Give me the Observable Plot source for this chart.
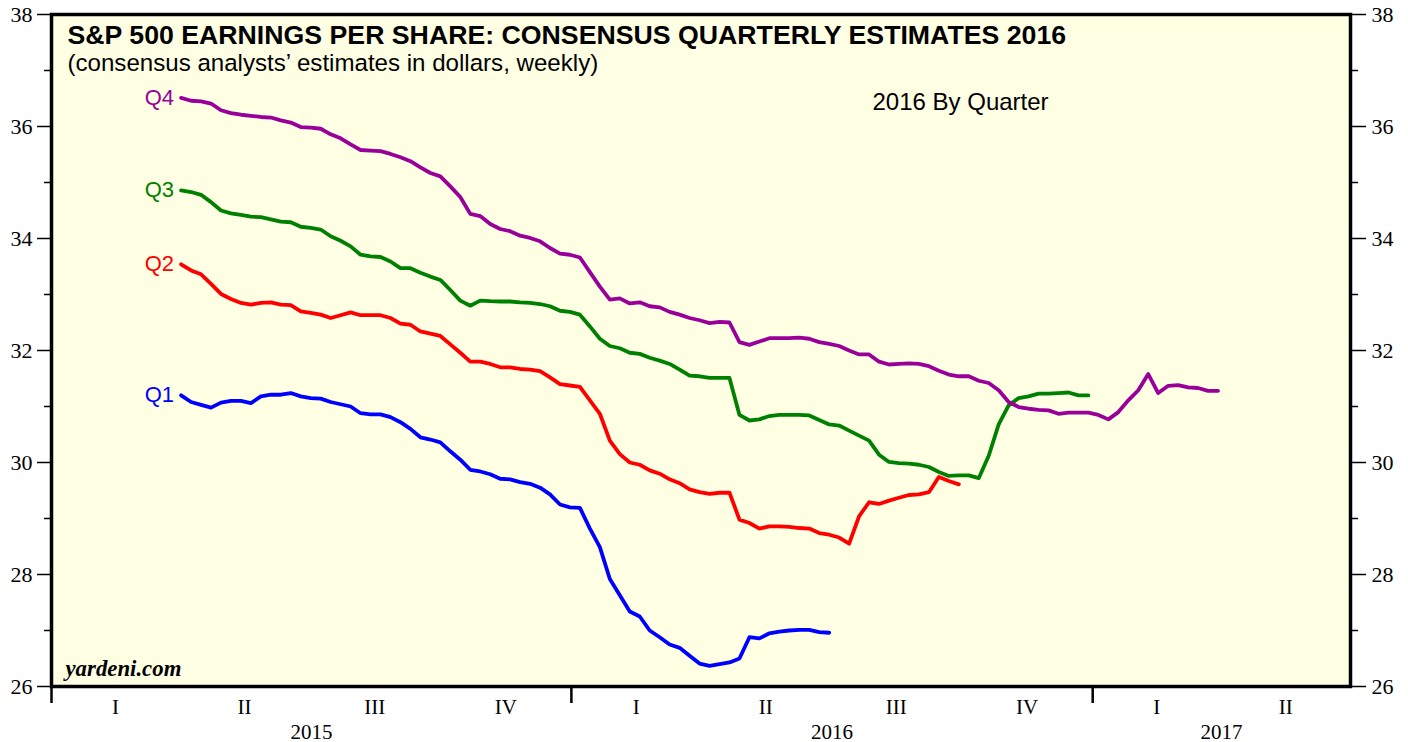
<!DOCTYPE html>
<html><head><meta charset="utf-8">
<script src="https://cdn.jsdelivr.net/npm/d3@7"></script>
<script src="https://cdn.jsdelivr.net/npm/@observablehq/plot@0.6"></script>
<style>
html,body{margin:0;padding:0;background:#fff;}
#chart{width:1408px;height:742px;overflow:hidden;position:relative;}
</style></head><body><div id="chart"></div>
<script>
// ---- data (weekly consensus estimates, starting first week of April 2015) ----
const startDate = [2015, 3, 2]; // 2015-04-02, weekly
const q1 = [31.20,31.08,31.03,30.98,31.07,31.10,31.10,31.06,31.18,31.21,
  31.21,31.24,31.18,31.15,31.14,31.08,31.04,31.00,30.88,30.86,
  30.86,30.81,30.72,30.60,30.45,30.41,30.36,30.20,30.05,29.87,
  29.84,29.79,29.71,29.70,29.65,29.62,29.55,29.43,29.25,29.20,
  29.19,28.82,28.49,27.92,27.63,27.34,27.25,27.00,26.88,26.75,
  26.69,26.55,26.41,26.37,26.40,26.43,26.50,26.88,26.86,26.95,
  26.98,27.00,27.01,27.01,26.97,26.96];
const q2 = [33.54,33.43,33.36,33.19,33.01,32.92,32.85,32.82,32.85,32.86,
  32.82,32.81,32.70,32.67,32.64,32.58,32.63,32.68,32.63,32.63,
  32.63,32.58,32.48,32.46,32.34,32.30,32.26,32.11,31.96,31.80,
  31.80,31.76,31.70,31.70,31.67,31.66,31.63,31.52,31.40,31.375,
  31.35,31.11,30.87,30.39,30.15,30.00,29.96,29.86,29.80,29.70,
  29.63,29.52,29.47,29.44,29.46,29.46,28.98,28.92,28.82,28.86,
  28.86,28.85,28.83,28.82,28.74,28.71,28.66,28.55,29.04,29.29,
  29.26,29.32,29.37,29.42,29.43,29.47,29.74,29.67,29.61];
const q3 = [34.86,34.83,34.78,34.65,34.50,34.45,34.42,34.39,34.38,34.34,
  34.30,34.29,34.21,34.19,34.16,34.04,33.96,33.86,33.71,33.68,
  33.67,33.59,33.47,33.47,33.39,33.32,33.26,33.08,32.89,32.80,
  32.89,32.88,32.875,32.875,32.86,32.85,32.83,32.79,32.71,32.69,
  32.64,32.43,32.21,32.08,32.04,31.96,31.94,31.87,31.82,31.76,
  31.66,31.55,31.54,31.51,31.51,31.51,30.85,30.75,30.77,30.83,
  30.85,30.85,30.85,30.84,30.76,30.68,30.66,30.57,30.48,30.39,
  30.14,30.01,29.99,29.98,29.96,29.92,29.83,29.76,29.77,29.77,
  29.72,30.12,30.68,31.02,31.15,31.18,31.23,31.23,31.24,31.25,
  31.20,31.20];
const q4 = [36.51,36.46,36.45,36.41,36.29,36.24,36.21,36.19,36.17,36.16,
  36.11,36.07,35.99,35.98,35.96,35.86,35.79,35.68,35.58,35.57,
  35.56,35.51,35.45,35.38,35.27,35.17,35.11,34.93,34.74,34.44,
  34.40,34.26,34.17,34.13,34.05,34.01,33.95,33.83,33.73,33.71,
  33.66,33.40,33.14,32.91,32.93,32.84,32.86,32.79,32.77,32.69,
  32.64,32.58,32.54,32.49,32.51,32.50,32.15,32.10,32.16,32.22,
  32.22,32.22,32.23,32.21,32.15,32.12,32.08,32.00,31.93,31.93,
  31.80,31.75,31.76,31.77,31.76,31.72,31.64,31.57,31.54,31.54,
  31.46,31.42,31.29,31.08,30.99,30.96,30.94,30.93,30.87,30.89,
  30.89,30.89,30.85,30.77,30.90,31.11,31.29,31.58,31.24,31.37,
  31.38,31.34,31.33,31.28,31.28];
const seriesNames = ["Q1","Q2","Q3","Q4"];
const seriesColors = ["#0000ff","#ff0000","#008000","#990099"];
const quarterLabels = ["I","II","III","IV","I","II","III","IV","I","II"];
const quarterBounds = ["2015-01-01","2015-04-01","2015-07-01","2015-10-01","2016-01-01","2016-04-01","2016-07-01","2016-10-01","2017-01-01","2017-04-01","2017-07-01"];
const yearLabels = ["2015","2016","2017"];
const yearBounds = ["2015-01-01","2016-01-01","2017-01-01","2017-07-01"];
const yMajor = [26,28,30,32,34,36,38];
const yMinor = [27,29,31,33,35,37];
const titleText = "S&P 500 EARNINGS PER SHARE: CONSENSUS QUARTERLY ESTIMATES 2016";
const subtitleText = "(consensus analysts\u2019 estimates in dollars, weekly)";
const noteText = "2016 By Quarter";
const sourceText = "yardeni.com";

// ---- build tables ----
const values = [q1, q2, q3, q4];
const rows = seriesNames.flatMap((s, k) => values[k].map((v, i) => ({
  series: s,
  date: new Date(Date.UTC(startDate[0], startDate[1], startDate[2] + 7 * i)),
  value: v
})));
const firsts = seriesNames.map(s => rows.find(r => r.series === s));
const D = s => new Date(s + "T00:00:00Z");
const mid = (a, b) => new Date((D(a).getTime() + D(b).getTime()) / 2);
const quarterMids = quarterLabels.map((l, i) => ({label: l, date: mid(quarterBounds[i], quarterBounds[i + 1])}));
const yearMids = yearLabels.map((l, i) => ({label: l, date: mid(yearBounds[i], yearBounds[i + 1])}));
const yearTicks = yearBounds.slice(0, 3).map(D);

const sans = "'Liberation Sans', Arial, sans-serif";
const serif = "'Liberation Serif', 'Times New Roman', serif";

const chart = Plot.plot({
  width: 1408, height: 742,
  marginLeft: 51, marginRight: 58, marginTop: 14, marginBottom: 56,
  x: {type: "utc", domain: [D(yearBounds[0]), D(yearBounds[3])]},
  y: {domain: [26, 38]},
  color: {domain: seriesNames, range: seriesColors},
  style: {fontFamily: serif, fontSize: "22px", background: "#fff", color: "#000", overflow: "visible"},
  marks: [
    Plot.frame({fill: "#ffffe4", stroke: "none"}),
    Plot.axisY({anchor: "left", label: null, ticks: yMajor, tickSize: 14, tickPadding: 5, strokeWidth: 1.5, tickFormat: d => String(d), fontFamily: serif, fontSize: 22}),
    Plot.axisY({anchor: "left", label: null, ticks: yMinor, tickSize: 7, strokeWidth: 1.5, tickFormat: () => ""}),
    Plot.axisY({anchor: "right", label: null, ticks: yMajor, tickSize: 15, tickPadding: 6, strokeWidth: 1.5, tickFormat: d => String(d), fontFamily: serif, fontSize: 22}),
    Plot.axisY({anchor: "right", label: null, ticks: yMinor, tickSize: 7, strokeWidth: 1.5, tickFormat: () => ""}),
    Plot.axisX({label: null, ticks: yearTicks, tickSize: 17, strokeWidth: 2.5, tickFormat: () => ""}),
    Plot.text(quarterMids, {x: "date", text: "label", frameAnchor: "bottom", dy: 27, lineAnchor: "bottom", fontFamily: serif, fontSize: 21}),
    Plot.text(yearMids, {x: "date", text: "label", frameAnchor: "bottom", dy: 52, lineAnchor: "bottom", fontFamily: serif, fontSize: 21}),
    Plot.line(rows, {x: "date", y: "value", z: "series", stroke: "series", strokeWidth: 3.8, strokeLinejoin: "round"}),
    Plot.text(firsts, {x: "date", y: "value", text: "series", fill: "series", textAnchor: "end", dx: -7, lineAnchor: "middle", fontFamily: sans, fontSize: 22}),
    Plot.text([titleText], {frameAnchor: "top-left", dx: 16, dy: 29, lineAnchor: "bottom", textAnchor: "start", fontFamily: sans, fontWeight: "bold", fontSize: 26.7}),
    Plot.text([subtitleText], {frameAnchor: "top-left", dx: 16, dy: 56, lineAnchor: "bottom", textAnchor: "start", fontFamily: sans, fontSize: 24.1}),
    Plot.text([noteText], {frameAnchor: "top-left", dx: 821, dy: 95, lineAnchor: "bottom", textAnchor: "start", fontFamily: sans, fontSize: 24}),
    Plot.text([sourceText], {frameAnchor: "bottom-left", dx: 14, dy: -11, lineAnchor: "bottom", textAnchor: "start", fontFamily: serif, fontWeight: "bold", fontStyle: "italic", fontSize: 22.8}),
    Plot.frame({stroke: "#000", strokeWidth: 3.5, fill: "none"})
  ]
});
document.getElementById("chart").appendChild(chart);
</script></body></html>
